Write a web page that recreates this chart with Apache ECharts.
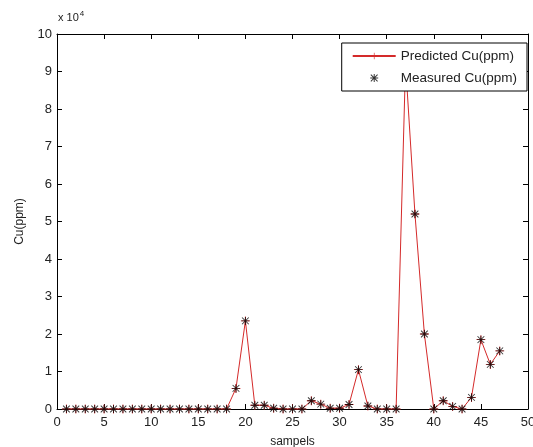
<!DOCTYPE html>
<html>
<head>
<meta charset="utf-8">
<script src="https://cdn.jsdelivr.net/npm/echarts@6/dist/echarts.min.js"></script>
<style>
  html, body { margin: 0; padding: 0; background: #fff; }
  #main { width: 533px; height: 447px; }
</style>
</head>
<body>
<div id="main"></div>
<script>
// sample numbers 1..47
var samples = [1, 2, 3, 4, 5, 6, 7, 8, 9, 10, 11, 12, 13, 14, 15, 16, 17, 18, 19, 20,
  21, 22, 23, 24, 25, 26, 27, 28, 29, 30, 31, 32, 33, 34, 35, 36, 37, 38, 39, 40,
  41, 42, 43, 44, 45, 46, 47];
// Cu (ppm)
var measured = [0, 0, 0, 0, 0, 0, 0, 0, 0, 0, 0, 0, 0, 0, 0, 0, 0, 0, 5500, 23500,
  1000, 1000, 200, 0, 0, 0, 2200, 1300, 200, 200, 1200, 10500, 800, 0, 0, 0, 92000, 52000, 20000, 0,
  2200, 700, 0, 3100, 18500, 11900, 15500];
var predicted = [0, 0, 0, 0, 0, 0, 0, 0, 0, 0, 0, 0, 0, 0, 0, 0, 0, 0, 5500, 23500,
  1000, 1000, 200, 0, 0, 0, 2200, 1300, 200, 200, 1200, 10500, 800, 0, 0, 0, 92000, 52000, 20000, 0,
  2200, 700, 0, 3100, 18500, 11900, 15500];
var xTicks = [0, 5, 10, 15, 20, 25, 30, 35, 40, 45, 50];
var yTicks = [0, 1, 2, 3, 4, 5, 6, 7, 8, 9, 10];

var plusPath = 'path://M4.5,0h1v10h-1z M0,4.5h10v1h-10z';
var starPath = 'path://M4.4,0h1.2v10h-1.2z M0,4.4h10v1.2h-10z M1.2,0.4L9.6,8.8L8.8,9.6L0.4,1.2z M8.8,0.4L9.6,1.2L1.2,9.6L0.4,8.8z';

var font = 'Arial, "Liberation Sans", sans-serif';
var axisCommon = {
  axisLine: { onZero: false, lineStyle: { color: '#000', width: 1 } },
  axisTick: { inside: true, length: 5, lineStyle: { color: '#000' } },
  splitLine: { show: false }
};

var chart = echarts.init(document.getElementById('main'));
chart.setOption({
  animation: false,
  backgroundColor: '#fff',
  textStyle: { fontFamily: font },
  grid: { left: 57, right: 5, top: 34, bottom: 38, outerBoundsMode: 'none', containLabel: false },
  legend: {
    right: 6, top: 43,
    orient: 'vertical',
    backgroundColor: '#fff',
    borderColor: '#000',
    borderWidth: 1,
    padding: [6, 10, 6, 10],
    itemGap: 8,
    itemWidth: 43,
    itemHeight: 8,
    textStyle: { fontSize: 13.5, color: '#222', fontFamily: font },
    data: ['Predicted Cu(ppm)', 'Measured Cu(ppm)']
  },
  xAxis: [
    Object.assign({
      type: 'value', min: 0, max: 50, interval: 5,
      name: 'sampels', nameLocation: 'middle', nameGap: 27,
      nameTextStyle: { fontSize: 12, color: '#222' },
      axisLabel: { fontSize: 13, color: '#222', margin: 7,
        formatter: function (v) { return xTicks[Math.round(v / 5)]; } }
    }, axisCommon),
    Object.assign({
      type: 'value', min: 0, max: 50, interval: 5, position: 'top',
      axisLabel: { show: false }
    }, axisCommon)
  ],
  yAxis: [
    Object.assign({
      type: 'value', min: 0, max: 100000, interval: 10000,
      name: 'Cu(ppm)', nameLocation: 'middle', nameGap: 31, nameRotate: 90,
      nameTextStyle: { fontSize: 12, color: '#222' },
      axisLabel: { fontSize: 13, color: '#222', margin: 5,
        formatter: function (v) { return yTicks[Math.round(v / 10000)]; } }
    }, axisCommon),
    Object.assign({
      type: 'value', min: 0, max: 100000, interval: 10000, position: 'right',
      axisLabel: { show: false }
    }, axisCommon)
  ],
  graphic: [{
    type: 'text', left: 58, top: 10,
    style: {
      text: '{a|x 10}{b|4}',
      rich: {
        a: { fontSize: 11, fill: '#222', fontFamily: font },
        b: { fontSize: 8, fill: '#222', fontFamily: font, verticalAlign: 'top', padding: [0, 0, 8, 1] }
      }
    }
  }],
  series: [
    {
      name: 'Predicted Cu(ppm)',
      type: 'line',
      data: samples.map(function (s, i) { return [s, predicted[i]]; }),
      symbol: plusPath,
      symbolSize: 9,
      showAllSymbol: true,
      lineStyle: { color: '#d42a2a', width: 1 },
      itemStyle: { color: '#d42a2a' },
      z: 2
    },
    {
      name: 'Measured Cu(ppm)',
      type: 'scatter',
      data: samples.map(function (s, i) { return [s, measured[i]]; }),
      symbol: starPath,
      symbolSize: 8,
      itemStyle: { color: '#000' },
      z: 3
    }
  ]
});
</script>
</body>
</html>
